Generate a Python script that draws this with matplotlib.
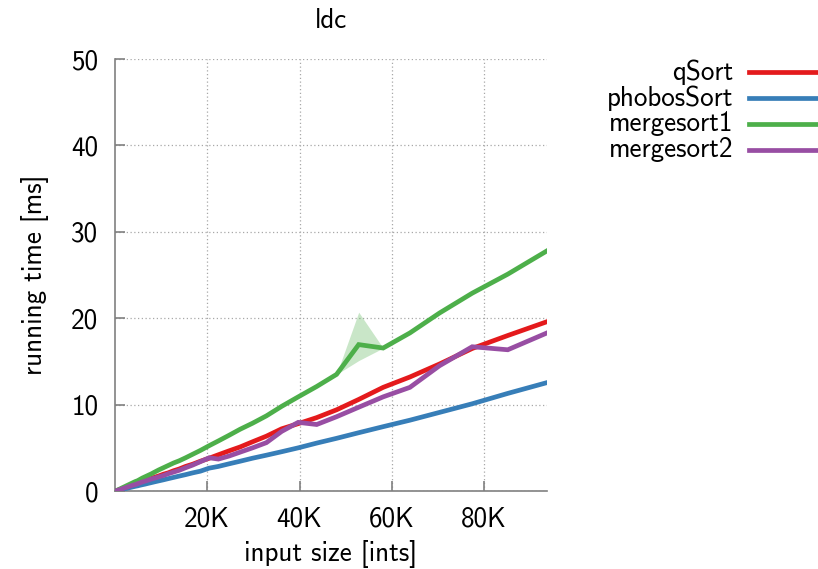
import matplotlib
matplotlib.use("Agg")
import matplotlib.pyplot as plt
from matplotlib.lines import Line2D

# input sizes in thousands of ints
sizes_k = [0.1, 4.0, 4.4, 4.9, 5.4, 5.9, 6.5, 7.1, 7.9, 8.6, 9.5, 10.5, 11.5, 12.7,
           13.9, 15.3, 16.8, 18.5, 20.4, 22.4, 24.7, 27.1, 29.8, 32.8, 36.1, 39.7,
           43.7, 48.0, 52.8, 58.1, 63.9, 70.3, 77.4, 85.1, 93.6]

qsort = [0.0, 0.7, 0.8, 0.9, 1.0, 1.1, 1.2, 1.3, 1.45, 1.6, 1.75, 1.95, 2.1, 2.35,
         2.55, 2.85, 3.1, 3.45, 3.8, 4.2, 4.65, 5.1, 5.7, 6.35, 7.2, 7.8,
         8.5, 9.4, 10.6, 12.0, 13.2, 14.7, 16.5, 18.0, 19.6]

phobos = [0.0, 0.5, 0.55, 0.6, 0.67, 0.73, 0.8, 0.88, 0.98, 1.07, 1.18, 1.3, 1.43, 1.58,
          1.73, 1.9, 2.1, 2.3, 2.65, 2.85, 3.15, 3.45, 3.8, 4.15, 4.55, 5.0,
          5.55, 6.1, 6.75, 7.45, 8.2, 9.1, 10.1, 11.3, 12.55]

merge1 = [0.0, 1.0, 1.1, 1.2, 1.35, 1.5, 1.65, 1.8, 2.0, 2.2, 2.45, 2.7, 2.95, 3.25,
          3.5, 3.85, 4.25, 4.7, 5.25, 5.8, 6.45, 7.15, 7.85, 8.7, 9.8, 10.9,
          12.1, 13.5, 16.95, 16.55, 18.3, 20.6, 22.9, 25.1, 27.8]
merge1_lo = merge1[:28] + [15.1] + merge1[29:]
merge1_hi = merge1[:28] + [20.7] + merge1[29:]

merge2 = [0.0, 0.7, 0.75, 0.85, 0.95, 1.05, 1.15, 1.25, 1.4, 1.5, 1.65, 1.8, 2.0, 2.2,
          2.4, 2.7, 3.0, 3.4, 3.85, 3.7, 4.05, 4.5, 5.0, 5.6, 6.9, 7.95,
          7.7, 8.6, 9.7, 10.9, 12.0, 14.5, 16.7, 16.35, 18.3]

names = ["qSort", "phobosSort", "mergesort1", "mergesort2"]
colors = ["#e41a1c", "#377eb8", "#4daf4a", "#984ea3"]
series = [qsort, phobos, merge1, merge2]

xticks = [20000, 40000, 60000, 80000]
xticklabels = ["20K", "40K", "60K", "80K"]
yticks = [0, 10, 20, 30, 40, 50]

plt.rcParams["font.family"] = ["cmss10", "DejaVu Sans"]
plt.rcParams["axes.unicode_minus"] = False
plt.rcParams["mathtext.fontset"] = "cm"

FS = 19.5
LW = 3.4

fig = plt.figure(figsize=(8.18, 5.69), dpi=100)
ax = fig.add_axes([0.1406, 0.137, 0.5281, 0.7593])

xs = [v * 1000 for v in sizes_k]
ax.fill_between(xs, merge1_lo, merge1_hi, color=colors[2], alpha=0.3, linewidth=0)
for vals, c, n in zip(series, colors, names):
    ax.plot(xs, vals, color=c, lw=LW, label=n, solid_joinstyle="miter", zorder=3)

ax.set_xlim(xs[0] - 100, xs[-1])
ax.set_ylim(0, 50)
ax.set_xticks(xticks)
ax.set_xticklabels(xticklabels)
ax.set_yticks(yticks)

for s in ["top", "right"]:
    ax.spines[s].set_visible(False)
for s in ["left", "bottom"]:
    ax.spines[s].set_color("#808080")
    ax.spines[s].set_linewidth(1.2)

ax.tick_params(direction="in", length=7, width=1.2, color="#808080",
               labelsize=FS)
ax.tick_params(axis="y", pad=12)
ax.tick_params(axis="x", pad=11)
ax.grid(True, color="#a8a8a8", linestyle=(0, (1, 2)), linewidth=0.9)
ax.set_axisbelow(True)

ax.set_xlabel("input size [ints]", fontsize=FS, labelpad=6)
ax.set_ylabel("running time [ms]", fontsize=FS, labelpad=16)
ax.set_title("ldc", fontsize=FS, pad=22)

# legend drawn to the right of the axes: labels right-aligned, line samples after them
W, H = 818, 569
for i, (n, c) in enumerate(zip(names, colors)):
    ypix = 72 + i * 26
    yf = 1 - ypix / H
    fig.text(733 / W, yf, n, ha="right", va="center", fontsize=FS)
    fig.add_artist(Line2D([749 / W, 818 / W], [yf, yf], color=c, lw=LW,
                          transform=fig.transFigure))

fig.savefig("out.png", dpi=100)
